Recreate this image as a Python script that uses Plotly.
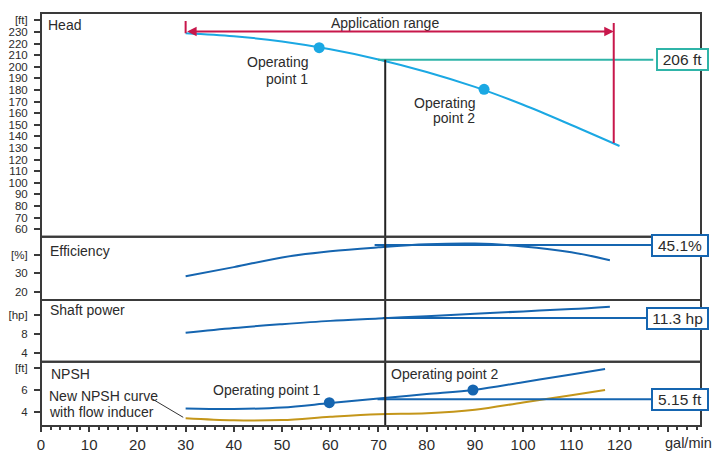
import plotly.graph_objects as go

# ---- pump curve data (flow in gal/min) ----
head_flow = [30, 40, 50, 60, 70, 80, 90, 100, 110, 120]
head_ft = [229, 226.4, 221.8, 215.1, 206.4, 195.6, 182.7, 167.3, 149.9, 131.8]

eff_flow = [30, 40, 50, 60, 70, 80, 90, 100, 110, 118]
eff_pct = [28.4, 33.3, 38.5, 41.8, 43.9, 45.5, 45.9, 44.4, 41.3, 37.0]

power_flow = [30, 40, 50, 60, 70, 80, 90, 100, 110, 118]
power_hp = [8.2, 9.2, 10.0, 10.7, 11.2, 11.7, 12.2, 12.7, 13.2, 13.7]

npsh_flow = [30, 40, 50, 60, 70, 80, 90, 100, 110, 117]
npsh_ft = [4.3, 4.25, 4.38, 4.8, 5.22, 5.62, 6.02, 6.72, 7.43, 7.94]

inducer_flow = [30, 40, 50, 60, 70, 80, 90, 100, 110, 117]
inducer_ft = [3.39, 3.2, 3.23, 3.53, 3.77, 3.86, 4.18, 4.85, 5.52, 6.0]

# operating points
op_flow = [57.7, 91.9]
op_head = [216.5, 180.6]
op_npsh_flow = [59.8, 89.6]
op_npsh_ft = [4.83, 6.0]

# duty point read-outs
duty_flow = 71.4
duty_head = 206
duty_eff = 45.1
duty_power = 11.3
duty_npsh = 5.15
readout_start = [69.9, 69.2, 70.9, 69.8]
readout_end = 127

app_range = [30, 118.8]

# axis ticks
x_ticks = list(range(0, 140, 10))
x_ticktext = [str(v) for v in range(0, 130, 10)] + [""]
head_ticks = list(range(60, 250, 10))
head_ticktext = [str(v) for v in range(60, 240, 10)] + ["[ft]"]
eff_ticks, eff_ticktext = [20, 30, 40], ["20", "30", "[%]"]
power_ticks, power_ticktext = [4, 8, 12], ["4", "8", "[hp]"]
npsh_ticks, npsh_ticktext = [4, 6, 8], ["4", "6", "[ft]"]

# ---- styling ----
FONT = "Liberation Sans, Arial, sans-serif"
TXT = "#2b2b2b"
FRAME = "#3a3a3a"
SKY = "#1ba8e3"
BLUE = "#1565b0"
GOLD = "#c4961a"
RED = "#c8174b"
TEAL = "#2fb4a8"

dom_npsh = [0.0, 0.1557]
dom_power = [0.1557, 0.3051]
dom_eff = [0.3051, 0.4584]
dom_head = [0.4584, 1.0]

fig = go.Figure()

fig.add_trace(go.Scatter(x=head_flow, y=head_ft, mode="lines", line=dict(color=SKY, width=2, shape="spline"),
                         xaxis="x", yaxis="y"))
fig.add_trace(go.Scatter(x=op_flow, y=op_head, mode="markers", marker=dict(color=SKY, size=11),
                         xaxis="x", yaxis="y"))
fig.add_trace(go.Scatter(x=[readout_start[0], readout_end], y=[duty_head, duty_head], mode="lines",
                         line=dict(color=TEAL, width=2), xaxis="x", yaxis="y"))

fig.add_trace(go.Scatter(x=eff_flow, y=eff_pct, mode="lines", line=dict(color=BLUE, width=2, shape="spline"),
                         xaxis="x", yaxis="y2"))
fig.add_trace(go.Scatter(x=[readout_start[1], readout_end], y=[duty_eff, duty_eff], mode="lines",
                         line=dict(color=BLUE, width=2), xaxis="x", yaxis="y2"))

fig.add_trace(go.Scatter(x=power_flow, y=power_hp, mode="lines", line=dict(color=BLUE, width=2, shape="spline"),
                         xaxis="x", yaxis="y3"))
fig.add_trace(go.Scatter(x=[readout_start[2], readout_end], y=[duty_power, duty_power], mode="lines",
                         line=dict(color=BLUE, width=2), xaxis="x", yaxis="y3"))

fig.add_trace(go.Scatter(x=inducer_flow, y=inducer_ft, mode="lines", line=dict(color=GOLD, width=2, shape="spline"),
                         xaxis="x", yaxis="y4"))
fig.add_trace(go.Scatter(x=npsh_flow, y=npsh_ft, mode="lines", line=dict(color=BLUE, width=2, shape="spline"),
                         xaxis="x", yaxis="y4"))
fig.add_trace(go.Scatter(x=[readout_start[3], readout_end], y=[duty_npsh, duty_npsh], mode="lines",
                         line=dict(color=BLUE, width=2), xaxis="x", yaxis="y4"))
fig.add_trace(go.Scatter(x=op_npsh_flow, y=op_npsh_ft, mode="markers", marker=dict(color=BLUE, size=11),
                         xaxis="x", yaxis="y4"))

shapes = []
# duty flow vertical line through all panels
shapes.append(dict(type="line", xref="x", yref="paper", x0=duty_flow, x1=duty_flow, y0=0, y1=dom_head[0],
                   line=dict(color="#222", width=2)))
shapes.append(dict(type="line", xref="x", yref="y", x0=duty_flow, x1=duty_flow, y0=40, y1=duty_head,
                   line=dict(color="#222", width=2)))
# application range markers
shapes.append(dict(type="line", xref="x", yref="y", x0=app_range[0], x1=app_range[0], y0=229, y1=239.5,
                   line=dict(color=RED, width=2)))
shapes.append(dict(type="line", xref="x", yref="y", x0=app_range[1], x1=app_range[1], y0=134.4, y1=237.8,
                   line=dict(color=RED, width=2)))
# pointer for the inducer note
shapes.append(dict(type="line", xref="x", yref="y4", x0=23.2, y0=5.14, x1=29.5, y1=3.48,
                   line=dict(color="#333", width=1)))
# panel frames
for d in (dom_npsh, dom_power, dom_eff, dom_head):
    shapes.append(dict(type="rect", xref="paper", yref="paper", x0=0, x1=1, y0=d[0], y1=d[1],
                       line=dict(color=FRAME, width=2), fillcolor="rgba(0,0,0,0)"))

ann = []


def label(text, x, y, yref, xanchor="left", size=14):
    ann.append(dict(text=text, x=x, y=y, xref="x", yref=yref, xanchor=xanchor, yanchor="middle",
                    showarrow=False, font=dict(family=FONT, size=size, color=TXT)))


label("Head", 1.0, 236, "y")
label("Efficiency", 1.4, 41.9, "y2")
label("Shaft power", 1.4, 13.0, "y3")
label("NPSH", 1.7, 7.48, "y4")
label("Application range", 71.3, 238.0, "y", xanchor="center")
label("Operating", 55.8, 204.4, "y", xanchor="right")
label("point 1", 55.8, 189.5, "y", xanchor="right")
label("Operating", 90.4, 169.1, "y", xanchor="right")
label("point 2", 90.4, 155.6, "y", xanchor="right")
label("Operating point 1", 46.9, 6.0, "y4", xanchor="center")
label("Operating point 2", 83.9, 7.48, "y4", xanchor="center")
label("New NPSH curve", 1.3, 5.45, "y4")
label("with flow inducer", 1.3, 3.97, "y4")
ann.append(dict(text="gal/min", x=0.943, y=-0.042, xref="paper", yref="paper", xanchor="left",
                yanchor="middle", showarrow=False, font=dict(family=FONT, size=14.5, color=TXT)))

# application range double arrow
ann.append(dict(text="", x=app_range[1], y=230.4, ax=app_range[0], ay=230.4, xref="x", yref="y",
                axref="x", ayref="y", showarrow=True, arrowside="end+start", arrowhead=2,
                arrowsize=0.95, arrowwidth=2, arrowcolor=RED, standoff=0, startstandoff=0))


def readout(text, xp, y, yref, color, w):
    ann.append(dict(text=text, x=xp, y=y, xref="paper", yref=yref, xanchor="center", yanchor="middle",
                    showarrow=False, bgcolor="white", bordercolor=color, borderwidth=2, borderpad=1,
                    width=w, height=17, font=dict(family=FONT, size=15.5, color=TXT)))


readout(f"{duty_head} ft", 0.972, duty_head, "y", TEAL, 47)
readout(f"{duty_eff}%", 0.968, duty_eff, "y2", BLUE, 52)
readout(f"{duty_power} hp", 0.964, duty_power, "y3", BLUE, 57)
readout(f"{duty_npsh} ft", 0.968, duty_npsh, "y4", BLUE, 52)

yax_common = dict(showgrid=False, zeroline=False, ticks="outside", ticklen=6, tickwidth=2, tickcolor=FRAME,
                  tickfont=dict(family=FONT, size=11.5, color=TXT), anchor="x", tickmode="array",
                  automargin=False, ticklabelstandoff=4)

fig.update_layout(
    width=713, height=452,
    margin=dict(l=41, r=12, t=13, b=26, autoexpand=False),
    paper_bgcolor="white", plot_bgcolor="white",
    showlegend=False,
    xaxis=dict(range=[0, 136.9], showgrid=False, zeroline=False, anchor="y4", automargin=False,
               tickmode="array", tickvals=x_ticks, ticktext=x_ticktext,
               ticks="outside", ticklen=5, tickwidth=2, tickcolor=FRAME,
               tickfont=dict(family=FONT, size=15, color=TXT),
               minor=dict(dtick=2, tick0=0, ticks="outside", ticklen=3, tickwidth=1.5, tickcolor=FRAME)),
    yaxis=dict(domain=dom_head, range=[53.6, 246.4], tickvals=head_ticks, ticktext=head_ticktext, **yax_common),
    yaxis2=dict(domain=dom_eff, range=[15.7, 49.6], tickvals=eff_ticks, ticktext=eff_ticktext, **yax_common),
    yaxis3=dict(domain=dom_power, range=[2.1, 15.1], tickvals=power_ticks, ticktext=power_ticktext, **yax_common),
    yaxis4=dict(domain=dom_npsh, range=[2.68, 8.61], tickvals=npsh_ticks, ticktext=npsh_ticktext, **yax_common),
    shapes=shapes,
    annotations=ann,
)

fig.write_html("out.html")
